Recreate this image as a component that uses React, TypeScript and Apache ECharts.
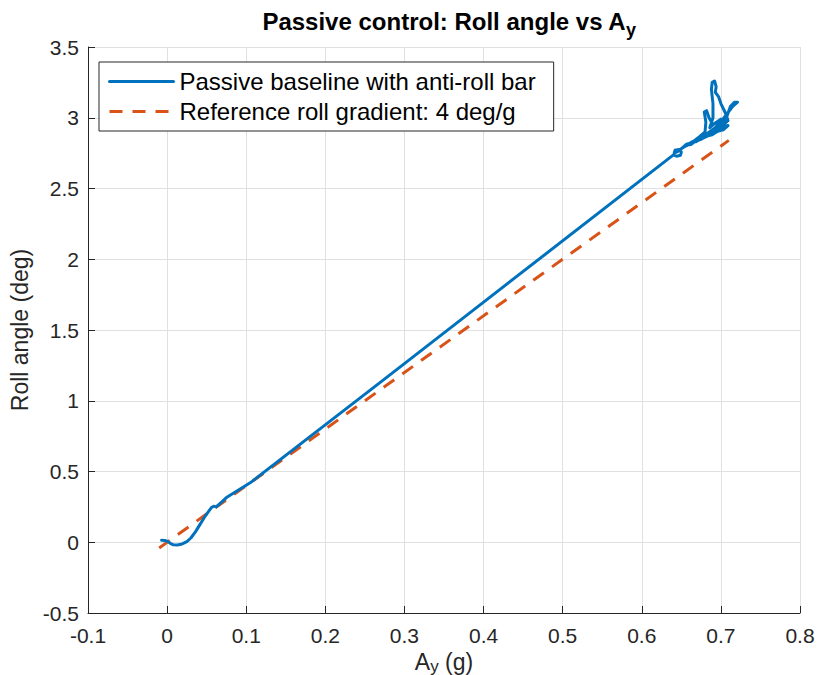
import React, { useEffect, useRef } from "react";
import * as echarts from "echarts";

const FONT = "'Liberation Sans', Arial, Helvetica, sans-serif";

const passiveName = "Passive baseline with anti-roll bar";
const referenceName = "Reference roll gradient: 4 deg/g";

// Passive baseline trajectory: lateral acceleration (g)
const passiveAy = [
  -0.007, -0.003, 0.0, 0.004, 0.008, 0.013, 0.019, 0.025, 0.03, 0.036, 0.042, 0.047, 0.052, 0.056, 0.059,
  0.062, 0.066, 0.075, 0.105, 0.269, 0.372, 0.64,
  0.644, 0.649, 0.65, 0.647, 0.642, 0.641, 0.645, 0.652, 0.66, 0.667,
  0.674, 0.68, 0.684, 0.677, 0.668, 0.673, 0.68, 0.681, 0.679, 0.682,
  0.685, 0.69, 0.696, 0.7, 0.692, 0.686, 0.69, 0.69, 0.688, 0.689,
  0.692, 0.694, 0.693, 0.697, 0.7, 0.706, 0.709, 0.703, 0.697, 0.69,
  0.684, 0.691, 0.7, 0.708, 0.715, 0.721, 0.717, 0.712, 0.707, 0.7,
  0.692, 0.683, 0.675, 0.668, 0.676, 0.688, 0.698, 0.705,
  0.702, 0.695, 0.689, 0.682, 0.676, 0.669, 0.662, 0.656, 0.652, 0.657,
  0.663, 0.669, 0.675, 0.681, 0.687, 0.693, 0.699, 0.704, 0.709, 0.703,
  0.696, 0.689, 0.682, 0.674, 0.666, 0.659, 0.654, 0.651, 0.656, 0.662,
  0.668, 0.675, 0.682, 0.69, 0.697, 0.704,
];
// Passive baseline trajectory: roll angle (deg)
const passiveRoll = [
  0.014, 0.013, 0.008, -0.008, -0.018, -0.019, -0.012, 0.005, 0.03, 0.075, 0.13, 0.175, 0.215, 0.245, 0.255,
  0.25, 0.27, 0.316, 0.42, 1.128, 1.575, 2.738,
  2.728, 2.735, 2.758, 2.776, 2.77, 2.75, 2.76, 2.79, 2.815, 2.835,
  2.855, 2.872, 2.885, 2.87, 2.845, 2.866, 2.9, 2.97, 3.04, 3.05,
  3.0, 2.95, 2.97, 2.99, 2.96, 2.93, 3.0, 3.1, 3.2, 3.25,
  3.26, 3.22, 3.18, 3.15, 3.1, 3.03, 2.98, 2.95, 2.93, 2.9,
  2.88, 2.92, 2.97, 3.03, 3.08, 3.11, 3.11, 3.08, 3.0, 2.94,
  2.9, 2.87, 2.85, 2.83, 2.86, 2.91, 2.95, 2.97,
  2.94, 2.92, 2.9, 2.88, 2.86, 2.845, 2.825, 2.805, 2.79, 2.815,
  2.82, 2.845, 2.85, 2.875, 2.88, 2.905, 2.91, 2.935, 2.945, 2.915,
  2.905, 2.88, 2.87, 2.845, 2.83, 2.81, 2.795, 2.785, 2.805, 2.81,
  2.835, 2.855, 2.87, 2.895, 2.915, 2.93,
];

// Reference gradient line (4 deg/g)
const refAy = [-0.01, 0.71];
const refRoll = [-0.04, 2.84];

const xMin = -0.1;
const xMax = 0.8;
const xStep = 0.1;
const yMin = -0.5;
const yMax = 3.5;
const yStep = 0.5;

const AXIS_COLOR = "#262626";
const GRID_COLOR = "#e0e0e0";

export default function App() {
  const ref = useRef<HTMLDivElement>(null);

  useEffect(() => {
    if (!ref.current) return;
    const chart = echarts.init(ref.current, null, { renderer: "svg" });
    const passiveData = passiveAy.map((x, i) => [x, passiveRoll[i]]);
    const refData = refAy.map((x, i) => [x, refRoll[i]]);
    const fmt = (v: number) => String(+v.toFixed(2));

    chart.setOption({
      animation: false,
      backgroundColor: "#ffffff",
      textStyle: { fontFamily: FONT },
      title: {
        text: "{a|Passive control: Roll angle vs A}{s|y}",
        left: 444,
        textAlign: "center",
        top: 4,
        textStyle: {
          rich: {
            a: { fontSize: 24, fontWeight: "bold", color: "#000", lineHeight: 26, verticalAlign: "top", fontFamily: FONT },
            s: { fontSize: 18, fontWeight: "bold", color: "#000", lineHeight: 42, verticalAlign: "middle", fontFamily: FONT },
          },
        },
      },
      grid: { left: 88, right: 20, top: 47, bottom: 62, containLabel: false, outerBoundsMode: "none" },
      legend: {
        orient: "vertical",
        left: 99,
        top: 62,
        padding: [6, 18, 6, 9],
        itemWidth: 64,
        itemHeight: 14,
        itemGap: 3,
        borderColor: AXIS_COLOR,
        borderWidth: 1,
        borderRadius: 0,
        backgroundColor: "#ffffff",
        itemStyle: { opacity: 0 },
        lineStyle: { width: 3 },
        textStyle: { fontSize: 24, lineHeight: 27, color: "#000", fontFamily: FONT, padding: [0, 0, 0, 1] },
        data: [passiveName, referenceName],
      },
      xAxis: {
        type: "value",
        min: xMin,
        max: xMax,
        interval: xStep,
        name: "{a|A}{s|y}{a| (g)}",
        nameLocation: "middle",
        nameGap: 30,
        nameTextStyle: {
          rich: {
            a: { fontSize: 23, color: AXIS_COLOR, lineHeight: 22, verticalAlign: "top", fontFamily: FONT },
            s: { fontSize: 17, color: AXIS_COLOR, lineHeight: 32, verticalAlign: "middle", fontFamily: FONT },
          },
        },
        axisLine: { show: true, onZero: false, lineStyle: { color: AXIS_COLOR, width: 1 } },
        axisTick: { show: true, inside: true, length: 7, lineStyle: { color: AXIS_COLOR } },
        axisLabel: { fontSize: 21, color: AXIS_COLOR, margin: 12, fontFamily: FONT, formatter: fmt },
        splitLine: { show: true, lineStyle: { color: GRID_COLOR, width: 1 } },
      },
      yAxis: {
        type: "value",
        min: yMin,
        max: yMax,
        interval: yStep,
        name: "Roll angle (deg)",
        nameLocation: "middle",
        nameGap: 52,
        nameTextStyle: { fontSize: 23, color: AXIS_COLOR, fontFamily: FONT },
        axisLine: { show: true, onZero: false, lineStyle: { color: AXIS_COLOR, width: 1 } },
        axisTick: { show: true, inside: true, length: 7, lineStyle: { color: AXIS_COLOR } },
        axisLabel: { fontSize: 21, color: AXIS_COLOR, margin: 9, fontFamily: FONT, formatter: fmt },
        splitLine: { show: true, lineStyle: { color: GRID_COLOR, width: 1 } },
      },
      series: [
        {
          name: passiveName,
          type: "line",
          data: passiveData,
          symbol: "none",
          showSymbol: false,
          lineStyle: { color: "#0072BD", width: 3, join: "round", cap: "round" },
          itemStyle: { color: "#0072BD" },
          z: 3,
        },
        {
          name: referenceName,
          type: "line",
          data: refData,
          symbol: "none",
          showSymbol: false,
          lineStyle: { color: "#D95319", width: 3, type: [13, 10] },
          itemStyle: { color: "#D95319" },
          z: 2,
        },
      ],
    });
    return () => chart.dispose();
  }, []);

  return (
    <div
      ref={ref}
      style={{ position: "fixed", left: 0, top: 0, width: 820, height: 675, background: "#fff" }}
    />
  );
}
